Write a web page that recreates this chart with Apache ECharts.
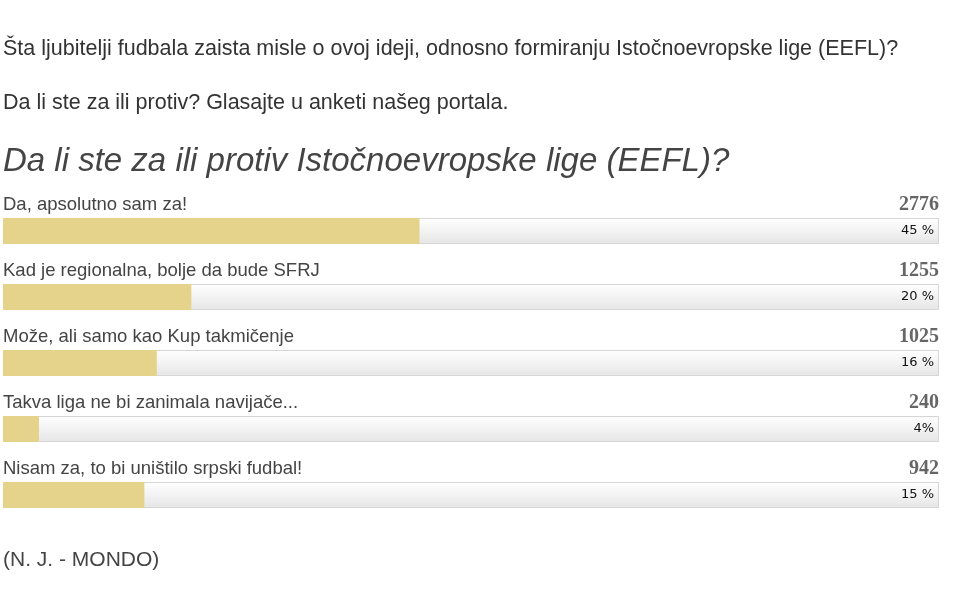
<!DOCTYPE html>
<html>
<head>
<meta charset="utf-8">
<script src="https://cdn.jsdelivr.net/npm/echarts@6/dist/echarts.min.js"></script>
<style>
html,body{margin:0;padding:0;background:#fff;}
#chart{width:960px;height:600px;}
</style>
</head>
<body>
<div id="chart"></div>
<script>
const introLine1 = 'Šta ljubitelji fudbala zaista misle o ovoj ideji, odnosno formiranju Istočnoevropske lige (EEFL)?';
const introLine2 = 'Da li ste za ili protiv? Glasajte u anketi našeg portala.';
const pollTitle = 'Da li ste za ili protiv Istočnoevropske lige (EEFL)?';
const sourceNote = '(N. J. - MONDO)';

const categories = [
  'Da, apsolutno sam za!',
  'Kad je regionalna, bolje da bude SFRJ',
  'Može, ali samo kao Kup takmičenje',
  'Takva liga ne bi zanimala navijače...',
  'Nisam za, to bi uništilo srpski fudbal!'
];
const votes = [2776, 1255, 1025, 240, 942];
const percentLabels = ['45 %', '20 %', '16 %', '4%', '15 %'];

const total = votes.reduce((a, b) => a + b, 0);
const trackData = categories.map(() => total);

const chart = echarts.init(document.getElementById('chart'));
const textFont = '"Liberation Sans", Arial, sans-serif';

chart.setOption({
  animation: false,
  backgroundColor: '#ffffff',
  title: [
    { text: introLine1, left: -2, top: 33, textStyle: { fontFamily: textFont, fontSize: 21.5, fontWeight: 'normal', color: '#333' } },
    { text: introLine2, left: -2, top: 87, textStyle: { fontFamily: textFont, fontSize: 21.5, fontWeight: 'normal', color: '#333' } },
    { text: pollTitle, left: -2, top: 140, textStyle: { fontFamily: textFont, fontSize: 33, fontStyle: 'italic', fontWeight: 'normal', color: '#444' } },
    { text: sourceNote, left: -2, top: 545, textStyle: { fontFamily: textFont, fontSize: 21, fontWeight: 'normal', color: '#444' } }
  ],
  grid: { left: 3, right: 21, top: 198, bottom: 72, containLabel: false },
  xAxis: { type: 'value', min: 0, max: total, show: false },
  yAxis: { type: 'category', data: categories, inverse: true, show: false },
  series: [
    {
      name: 'track',
      type: 'bar',
      data: trackData,
      barWidth: 26,
      barGap: '-100%',
      silent: true,
      itemStyle: {
        color: new echarts.graphic.LinearGradient(0, 0, 0, 1, [
          { offset: 0, color: '#ffffff' },
          { offset: 1, color: '#e6e6e6' }
        ]),
        borderColor: '#d6d6d6',
        borderWidth: 1
      },
      label: {
        show: true,
        position: 'insideRight',
        distance: 5,
        formatter: p => percentLabels[p.dataIndex],
        fontFamily: '"DejaVu Sans", Tahoma, sans-serif',
        fontSize: 13,
        color: '#111'
      },
      z: 1
    },
    {
      name: 'names',
      type: 'bar',
      data: trackData,
      barWidth: 26,
      barGap: '-100%',
      silent: true,
      itemStyle: { color: 'rgba(0,0,0,0)' },
      label: {
        show: true,
        position: [0, -23],
        formatter: p => categories[p.dataIndex],
        fontFamily: textFont,
        fontSize: 18.5,
        color: '#444'
      },
      z: 2
    },
    {
      name: 'counts',
      type: 'bar',
      data: trackData,
      barWidth: 26,
      barGap: '-100%',
      silent: true,
      itemStyle: { color: 'rgba(0,0,0,0)' },
      label: {
        show: true,
        position: ['100%', -23],
        align: 'right',
        formatter: p => String(votes[p.dataIndex]),
        fontFamily: '"Liberation Serif", "Times New Roman", serif',
        fontWeight: 'bold',
        fontSize: 20,
        color: '#666'
      },
      z: 2
    },
    {
      name: 'votes',
      type: 'bar',
      data: votes,
      barWidth: 26,
      barGap: '-100%',
      itemStyle: { color: '#e5d28b' },
      z: 3
    }
  ]
});
</script>
</body>
</html>
